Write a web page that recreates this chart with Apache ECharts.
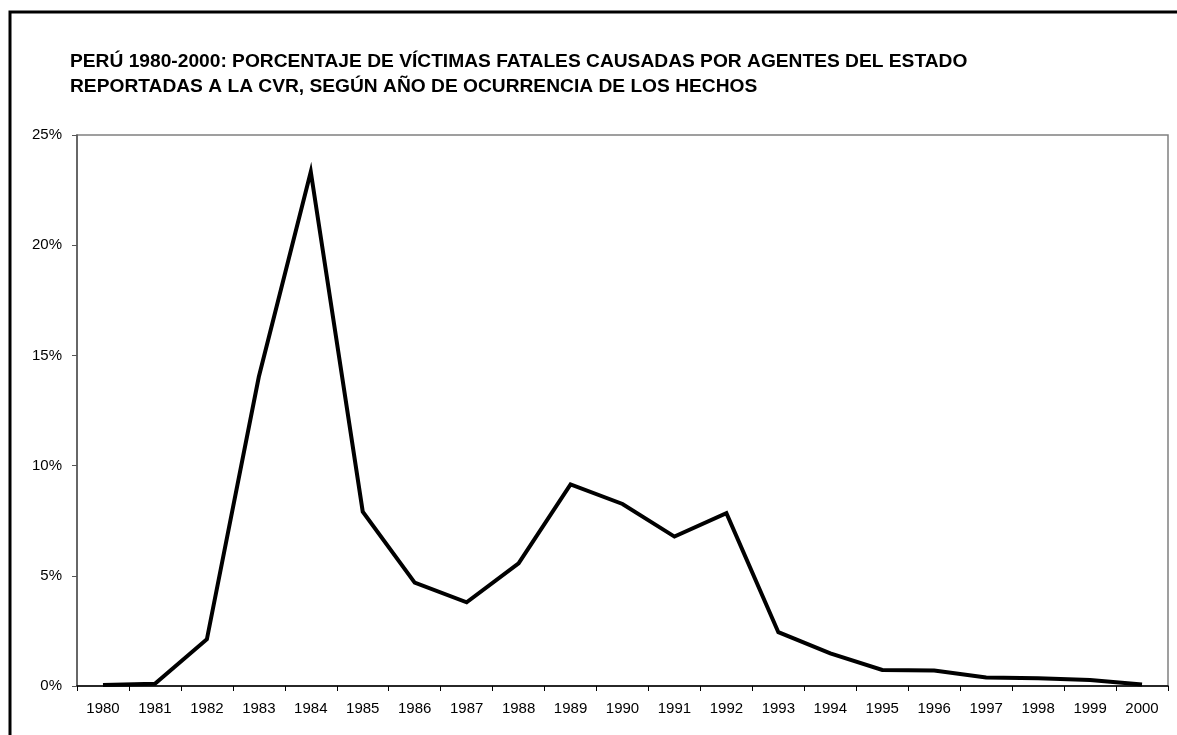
<!DOCTYPE html>
<html>
<head>
<meta charset="utf-8">
<script src="https://cdn.jsdelivr.net/npm/echarts@6/dist/echarts.min.js"></script>
<style>
  html, body { margin: 0; padding: 0; background: #fff; }
  #container { width: 1177px; height: 735px; }
</style>
</head>
<body>
<div id="container"></div>
<script>
// datos
var anios = ['1980','1981','1982','1983','1984','1985','1986','1987','1988','1989','1990',
             '1991','1992','1993','1994','1995','1996','1997','1998','1999','2000'];
var porcentajes = [0.05, 0.1, 2.12, 14.03, 23.33, 7.91, 4.69, 3.8, 5.57, 9.15, 8.26,
                   6.78, 7.84, 2.44, 1.48, 0.73, 0.7, 0.39, 0.35, 0.27, 0.07];
var titulo = 'PERÚ 1980-2000: PORCENTAJE DE VÍCTIMAS FATALES CAUSADAS POR AGENTES DEL ESTADO\n' +
             'REPORTADAS A LA CVR, SEGÚN AÑO DE OCURRENCIA DE LOS HECHOS';

var dom = document.getElementById('container');
var myChart = echarts.init(dom);

var option = {
    backgroundColor: '#fff',
    animation: false,
    title: {
        text: titulo,
        left: 65,
        top: 44,
        textStyle: {
            fontFamily: 'Liberation Sans, Arial, sans-serif',
            fontSize: 19.2,
            fontWeight: 'bold',
            color: '#000',
            lineHeight: 25
        }
    },
    // marco exterior (solo se ven el borde superior e izquierdo)
    graphic: [{
        type: 'rect',
        shape: { x: 10, y: 12, width: 1200, height: 800 },
        style: { fill: 'none', stroke: '#000', lineWidth: 3 },
        silent: true
    }],
    grid: {
        left: 77,
        right: 9,
        top: 135,
        bottom: 49,
        show: true,
        borderColor: '#808080',
        borderWidth: 1.5
    },
    xAxis: {
        type: 'category',
        data: anios,
        boundaryGap: true,
        axisLine: { lineStyle: { color: '#000', width: 1.5 } },
        axisTick: { show: true, length: 5, inside: false, lineStyle: { color: '#000' } },
        axisLabel: {
            color: '#000',
            fontFamily: 'Liberation Sans, Arial, sans-serif',
            fontSize: 15,
            margin: 15
        },
        splitLine: { show: false }
    },
    yAxis: {
        type: 'value',
        min: 0,
        max: 25,
        interval: 5,
        axisLine: { show: true, lineStyle: { color: '#555', width: 1.5 } },
        axisTick: { show: true, length: 5, lineStyle: { color: '#555' } },
        axisLabel: {
            color: '#000',
            fontFamily: 'Liberation Sans, Arial, sans-serif',
            fontSize: 15,
            margin: 15,
            formatter: '{value}%'
        },
        splitLine: { show: false }
    },
    series: [{
        name: 'Agentes del Estado',
        type: 'line',
        data: porcentajes,
        showSymbol: false,
        symbol: 'none',
        lineStyle: { color: '#000', width: 4, join: 'miter' },
        itemStyle: { color: '#000' }
    }]
};
myChart.setOption(option, true);
</script>
</body>
</html>
